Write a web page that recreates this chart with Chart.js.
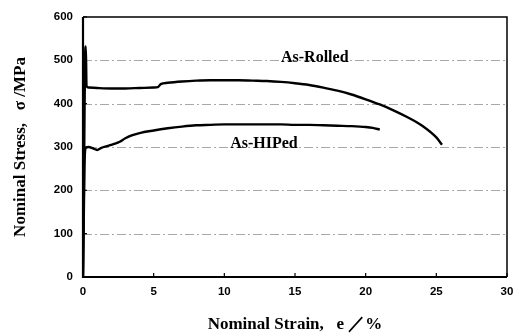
<!DOCTYPE html>
<html>
<head>
<meta charset="utf-8">
<script src="https://cdn.jsdelivr.net/npm/chart.js@4/dist/chart.umd.min.js"></script>
<style>
html,body{margin:0;padding:0;background:#fff;}
#wrap{width:526px;height:335px;position:relative;}
</style>
</head>
<body>
<div id="wrap"><canvas id="c" width="526" height="335"></canvas></div>
<script>
// Data
const rolledStrain = [0, 0.05, 0.1, 0.15, 0.2, 0.25, 0.4, 1, 2, 3, 4, 5, 5.3, 5.5, 6, 7, 8, 9, 10, 11, 12, 13, 14, 15, 16, 17, 18, 19, 20, 21, 22, 23, 24, 25, 25.4];
const rolledStress = [0, 150, 350, 510, 532, 440, 437, 436, 435, 435, 436, 437, 438, 445, 448, 451, 453, 454, 454, 454, 453, 452, 450, 447, 443, 437, 430, 421, 410, 398, 384, 368, 349, 322, 305];
const hipedStrain = [0, 0.05, 0.1, 0.2, 0.4, 0.7, 1.0, 1.3, 1.7, 2.2, 2.6, 3.0, 3.5, 4, 5, 6, 7, 8, 9, 10, 11, 12, 13, 14, 15, 16, 17, 18, 19, 20, 20.5, 21];
const hipedStress = [0, 120, 250, 298, 300, 297, 293, 298, 302, 307, 312, 320, 327, 332, 338, 343, 347, 350, 351, 352, 352, 352, 352, 352, 351, 351, 350, 349, 348, 346, 344, 340];
const xTicks = [0, 5, 10, 15, 20, 25, 30];
const yTicks = [0, 100, 200, 300, 400, 500, 600];
const seriesLabels = ['As-Rolled', 'As-HIPed'];
const labelPos = [[16.4, 505], [12.8, 306]];

const toPts = (xs, ys) => xs.map((x, i) => ({x: x, y: ys[i]}));

const framePlugin = {
  id: 'frame',
  beforeDatasetsDraw(chart) {
    const {ctx, chartArea: a, scales} = chart;
    ctx.save();
    ctx.strokeStyle = '#a8a8a8';
    ctx.lineWidth = 1;
    ctx.setLineDash([9, 3, 2, 3]);
    yTicks.forEach(v => {
      if (v === 0 || v === 600) return;
      const y = Math.round(scales.y.getPixelForValue(v)) + 0.5;
      ctx.beginPath(); ctx.moveTo(a.left, y); ctx.lineTo(a.right, y); ctx.stroke();
    });
    ctx.setLineDash([]);
    ctx.restore();
  },
  afterDatasetsDraw(chart) {
    const {ctx, chartArea: a, scales} = chart;
    ctx.save();
    ctx.strokeStyle = '#000';
    ctx.lineWidth = 1.5;
    ctx.beginPath();
    ctx.moveTo(a.left, a.top); ctx.lineTo(a.right, a.top); ctx.lineTo(a.right, a.bottom);
    ctx.stroke();
    ctx.lineWidth = 2.2;
    ctx.beginPath();
    ctx.moveTo(a.left, a.top); ctx.lineTo(a.left, a.bottom); ctx.lineTo(a.right, a.bottom);
    ctx.stroke();
    ctx.lineWidth = 1.2;
    xTicks.forEach(v => {
      const x = scales.x.getPixelForValue(v);
      ctx.beginPath(); ctx.moveTo(x, a.bottom); ctx.lineTo(x, a.bottom - 4); ctx.stroke();
    });
    yTicks.forEach(v => {
      const y = scales.y.getPixelForValue(v);
      ctx.beginPath(); ctx.moveTo(a.left, y); ctx.lineTo(a.left + 4, y); ctx.stroke();
    });
    ctx.fillStyle = '#000';
    ctx.font = "bold 16px 'Liberation Serif'";
    ctx.textAlign = 'center';
    ctx.textBaseline = 'middle';
    seriesLabels.forEach((t, i) => {
      ctx.fillText(t, scales.x.getPixelForValue(labelPos[i][0]), scales.y.getPixelForValue(labelPos[i][1]));
    });
    ctx.restore();
  }
};

new Chart(document.getElementById('c'), {
  type: 'scatter',
  data: {
    datasets: [
      {label: seriesLabels[0], data: toPts(rolledStrain, rolledStress), showLine: true, borderColor: '#000', borderWidth: 2.4, pointRadius: 0, cubicInterpolationMode: 'monotone', fill: false},
      {label: seriesLabels[1], data: toPts(hipedStrain, hipedStress), showLine: true, borderColor: '#000', borderWidth: 2.4, pointRadius: 0, cubicInterpolationMode: 'monotone', fill: false}
    ]
  },
  options: {
    responsive: false,
    animation: false,
    devicePixelRatio: 1,
    layout: {padding: {left: 0, right: 19, top: 11, bottom: 0}},
    plugins: {legend: {display: false}, tooltip: {enabled: false}},
    scales: {
      x: {
        type: 'linear', min: 0, max: 30,
        afterBuildTicks: s => { s.ticks = xTicks.map(v => ({value: v})); },
        afterFit: s => { s.height = 58; },
        grid: {display: false, drawTicks: false},
        border: {display: false},
        ticks: {color: '#000', font: {family: 'Liberation Sans', weight: 'bold', size: 11.5}, padding: 8, maxRotation: 0},
        title: {display: true, text: 'Nominal Strain,   e ／%', color: '#000', font: {family: 'Liberation Serif', weight: 'bold', size: 17}, padding: {top: 0, bottom: 0}}
      },
      y: {
        type: 'linear', min: 0, max: 600,
        afterBuildTicks: s => { s.ticks = yTicks.map(v => ({value: v})); },
        afterFit: s => { s.width = 83; },
        grid: {display: false, drawTicks: false},
        border: {display: false},
        ticks: {color: '#000', font: {family: 'Liberation Sans', weight: 'bold', size: 11.5}, padding: 10},
        title: {display: true, text: 'Nominal Stress,   σ /MPa', color: '#000', font: {family: 'Liberation Serif', weight: 'bold', size: 17}, padding: {top: 10, bottom: 0}}
      }
    }
  },
  plugins: [framePlugin]
});
</script>
</body>
</html>
